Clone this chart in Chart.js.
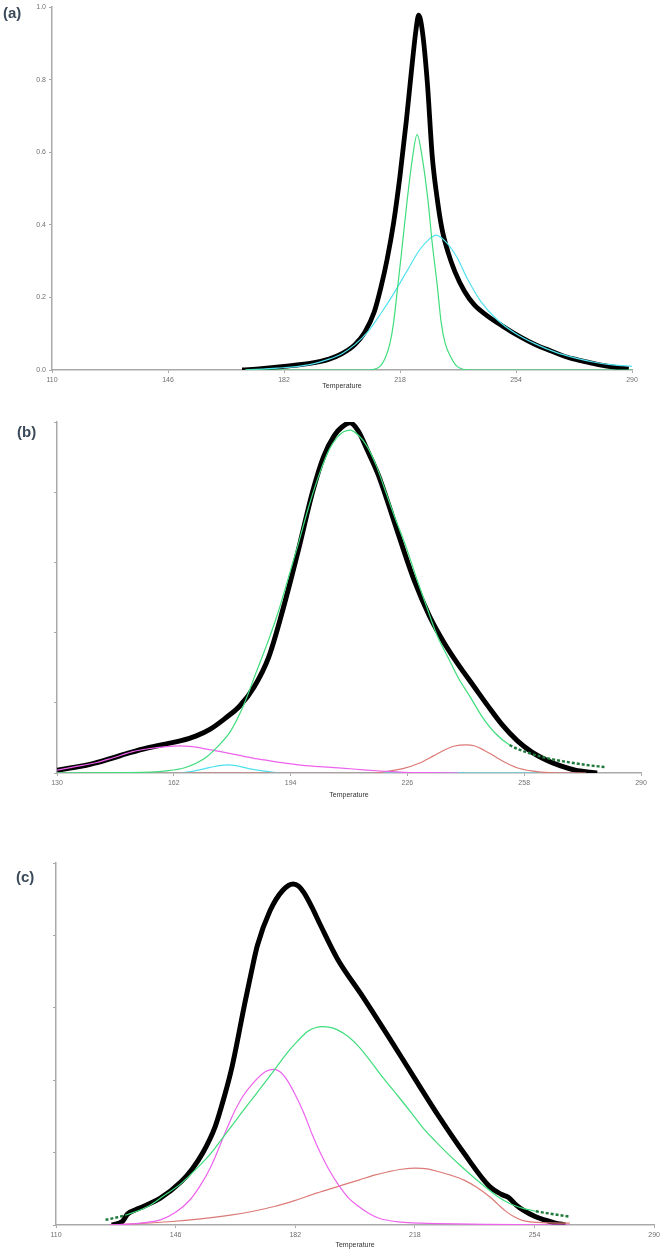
<!DOCTYPE html>
<html>
<head>
<meta charset="utf-8">
<title>Deconvoluted TL glow curves (a)-(c)</title>
<script src="https://cdn.jsdelivr.net/npm/chart.js@4.4.1/dist/chart.umd.min.js"></script>
<style>
  html, body { margin: 0; padding: 0; background: #fff; }
  body { width: 663px; height: 1249px; position: relative; overflow: hidden; }
  .panel { position: absolute; left: 0; width: 663px; }
  .tag {
    position: absolute;
    font: bold 15px 'Liberation Sans', Arial, sans-serif;
    color: #3b4a5a;
  }
</style>
</head>
<body>
  <div class="panel" style="top:0;height:395px;"><canvas id="chartA"></canvas></div>
  <div class="panel" style="top:400px;height:405px;"><canvas id="chartB"></canvas></div>
  <div class="panel" style="top:840px;height:409px;"><canvas id="chartC"></canvas></div>
  <div class="tag" style="left:3px;top:4px;">(a)</div>
  <div class="tag" style="left:17px;top:423px;">(b)</div>
  <div class="tag" style="left:16px;top:868px;">(c)</div>

<script>
/* ---------- tick labels ------------------------------------------ */
const TICKS_A = [110, 146, 182, 218, 254, 290];
const TICKS_B = [130, 162, 194, 226, 258, 290];
const TICKS_C = [110, 146, 182, 218, 254, 290];
const Y_TICKS = [0, 0.2, 0.4, 0.6, 0.8, 1.0];

/* ---------- (a) measured curve + two components ------------------ */
const A_BLACK_T = [169, 175, 182, 190, 196, 200, 204, 207, 210, 212, 214, 216, 218, 220, 221.5, 223, 223.8, 225, 226.5, 228, 229.5, 231, 233, 235, 238, 241, 245, 250, 255, 260, 265, 270, 275, 280, 285, 289];
const A_BLACK_V = [0, 0.004, 0.01, 0.018, 0.03, 0.045, 0.07, 0.103, 0.16, 0.225, 0.305, 0.405, 0.535, 0.69, 0.82, 0.94, 0.978, 0.93, 0.79, 0.59, 0.475, 0.39, 0.322, 0.272, 0.217, 0.18, 0.15, 0.12, 0.093, 0.07, 0.052, 0.035, 0.024, 0.014, 0.007, 0.003];

const A_CYAN_T = [170, 180, 190, 196, 200, 204, 208, 212, 216, 220, 224, 227, 229.2, 232, 235.7, 239, 243, 248, 254, 260, 266, 272, 278, 284, 290];
const A_CYAN_V = [0, 0.005, 0.015, 0.03, 0.045, 0.07, 0.105, 0.155, 0.21, 0.27, 0.33, 0.36, 0.372, 0.355, 0.31, 0.25, 0.19, 0.14, 0.10, 0.072, 0.05, 0.034, 0.022, 0.014, 0.01];

const A_GREEN_T = [170, 200, 208, 211.8, 213.5, 214.9, 216, 217.4, 218.8, 220.2, 221.8, 223.3, 225, 226.7, 228, 229.5, 230.8, 232, 233.8, 235.7, 240, 260, 290];
const A_GREEN_V = [0, 0, 0, 0.01, 0.035, 0.074, 0.13, 0.238, 0.35, 0.466, 0.58, 0.649, 0.58, 0.466, 0.35, 0.238, 0.13, 0.074, 0.035, 0.01, 0, 0, 0];

/* ---------- (b) measured curve + four components ----------------- */
const B_BLACK_T = [130, 134, 138, 141, 145, 150, 155, 160, 164, 168, 172, 176, 180, 184, 188, 192, 196, 200, 203, 206, 208, 210.3, 212.5, 215, 218, 221, 224, 228, 232, 236, 240, 244, 248, 252, 256, 260, 264, 268, 272, 276, 278];
const B_BLACK_V = [0.008, 0.015, 0.022, 0.03, 0.042, 0.058, 0.072, 0.083, 0.092, 0.105, 0.125, 0.155, 0.19, 0.245, 0.33, 0.47, 0.63, 0.8, 0.9, 0.962, 0.985, 0.998, 0.975, 0.92, 0.85, 0.76, 0.665, 0.545, 0.448, 0.372, 0.308, 0.25, 0.192, 0.137, 0.093, 0.06, 0.037, 0.02, 0.008, 0.002, 0];

const B_GREEN_T = [130, 150, 160, 165, 170.5, 174, 177.6, 181, 184.5, 188, 190.5, 193.5, 196.3, 199, 202, 204.5, 206.8, 208.5, 210.3, 212.5, 215, 217.5, 219.6, 222.5, 225.6, 228.5, 231.4, 234, 237.1, 240, 243.2, 246.5, 250, 254, 259.3, 264, 270, 275, 280];
const B_GREEN_V = [0, 0.001, 0.006, 0.015, 0.042, 0.075, 0.12, 0.19, 0.285, 0.38, 0.455, 0.56, 0.66, 0.76, 0.855, 0.92, 0.957, 0.972, 0.977, 0.963, 0.93, 0.875, 0.815, 0.73, 0.645, 0.555, 0.47, 0.395, 0.33, 0.27, 0.217, 0.16, 0.114, 0.08, 0.057, 0.043, 0.031, 0.023, 0.017];

const B_MAGENTA_T = [130, 135, 141, 145, 150.5, 155, 160, 163.5, 167, 171, 175.2, 180, 185, 190.5, 196, 202, 208, 214, 219.6, 225, 232, 240];
const B_MAGENTA_V = [0.008, 0.018, 0.03, 0.042, 0.06, 0.069, 0.075, 0.077, 0.075, 0.068, 0.06, 0.05, 0.04, 0.031, 0.023, 0.018, 0.014, 0.009, 0.005, 0.002, 0.001, 0];

const B_CYAN_T = [130, 163.4, 166, 169, 172, 174.5, 176.8, 179, 182, 185, 188, 192.7, 272];
const B_CYAN_V = [0, 0, 0.003, 0.009, 0.016, 0.021, 0.023, 0.021, 0.014, 0.008, 0.004, 0, 0];

const B_RED_T = [130, 216, 220, 225, 229, 233, 236, 239, 242, 244.5, 247, 250, 253, 256, 260, 265, 275];
const B_RED_V = [0, 0, 0.004, 0.013, 0.027, 0.048, 0.065, 0.077, 0.08, 0.077, 0.065, 0.047, 0.029, 0.015, 0.006, 0.001, 0];

/* ---------- (c) measured curve + three components ---------------- */
const C_BLACK_T = [126.8, 130, 131.5, 135, 141.4, 147.7, 151, 154.1, 157.9, 160.5, 163, 166.8, 168.7, 170.6, 174.4, 178.2, 181.4, 183, 184.6, 187, 189.6, 194.7, 202.3, 210, 217.6, 225.2, 232.8, 240.5, 244, 246.2, 248.5, 250.6, 254, 257, 260, 263.3];
const C_BLACK_V = [0, 0.01, 0.03, 0.046, 0.074, 0.12, 0.155, 0.198, 0.272, 0.35, 0.438, 0.612, 0.695, 0.772, 0.868, 0.924, 0.942, 0.936, 0.918, 0.878, 0.828, 0.735, 0.631, 0.521, 0.41, 0.3, 0.198, 0.106, 0.085, 0.076, 0.055, 0.041, 0.024, 0.014, 0.006, 0];

const C_GREEN_T = [124.9, 131.2, 137.6, 142, 147.7, 152, 156.6, 160.5, 164.2, 168, 171.9, 175.7, 179.5, 182.7, 185.8, 188, 190.3, 192.5, 194.7, 198, 201.1, 204.3, 207.4, 210.6, 213.8, 217, 220.1, 224, 227.8, 231.6, 235.4, 239.2, 243, 246.8, 250.6, 254.4, 258.2, 264.6];
const C_GREEN_V = [0.014, 0.028, 0.051, 0.078, 0.115, 0.153, 0.198, 0.245, 0.29, 0.336, 0.382, 0.428, 0.475, 0.508, 0.535, 0.545, 0.548, 0.546, 0.539, 0.52, 0.493, 0.457, 0.419, 0.382, 0.346, 0.309, 0.272, 0.233, 0.198, 0.165, 0.134, 0.105, 0.078, 0.058, 0.046, 0.038, 0.032, 0.023];

const C_MAGENTA_T = [126, 134, 141.4, 146, 150.3, 153.5, 156.6, 159.8, 163, 166.2, 169.3, 173.1, 175.7, 177.6, 179.5, 182, 184.6, 187.1, 189.6, 192.2, 194.7, 198, 201.1, 204.3, 207.4, 213.8, 220.1, 240, 264.6];
const C_MAGENTA_V = [0, 0.004, 0.014, 0.035, 0.069, 0.11, 0.161, 0.23, 0.3, 0.355, 0.392, 0.424, 0.43, 0.422, 0.401, 0.36, 0.309, 0.25, 0.198, 0.152, 0.115, 0.075, 0.051, 0.031, 0.018, 0.008, 0.005, 0.002, 0];

const C_RED_T = [126, 135, 143.9, 153.5, 163, 169.3, 175.7, 182, 188.4, 194.7, 201.1, 205.5, 210, 214, 218.2, 221.7, 225.2, 229, 232.8, 236.6, 240.5, 243, 245.5, 248, 250.6, 255, 264.6];
const C_RED_V = [0, 0.004, 0.009, 0.017, 0.028, 0.038, 0.051, 0.068, 0.088, 0.106, 0.124, 0.137, 0.147, 0.154, 0.157, 0.155, 0.147, 0.137, 0.124, 0.104, 0.078, 0.057, 0.037, 0.022, 0.012, 0.007, 0.005];

(function () {
  'use strict';

  function init() {
    if (typeof Chart === 'undefined') {
      setTimeout(init, 50);
      return;
    }

    Chart.defaults.font.family = "'Liberation Sans', Arial, sans-serif";
    Chart.defaults.animation = false;

    const BLACK     = '#000000';
    const GREEN     = '#3fdd7c'; /* main component */
    const GREEN_DK  = '#1f7a3c'; /* where the fit sum shows through on the tails */
    const CYAN      = '#4fe2ee';
    const MAGENTA   = '#ee62ee';
    const RED       = '#dc7a76';
    const AXIS      = '#a9a9a9';
    const LABEL     = '#707070';

    const zip = (ts, vs) => ts.map((t, i) => ({ x: t, y: vs[i] }));

    function line(ts, vs, color, width, order, tails) {
      const ds = {
        data: zip(ts, vs),
        borderColor: color,
        borderWidth: width,
        pointRadius: 0,
        cubicInterpolationMode: 'monotone',
        fill: false,
        order: order,
      };
      if (tails) {
        const inTail = (c) => tails.some(([a, b]) => c.p0.parsed.x >= a && c.p1.parsed.x <= b);
        ds.segment = {
          borderColor: (c) => (inTail(c) ? GREEN_DK : undefined),
          borderWidth: (c) => (inTail(c) ? 2.4 : undefined),
          borderDash: (c) => (inTail(c) ? [3, 2] : undefined),
        };
      }
      return ds;
    }

    /* one panel = one chart; plot box pinned with afterFit + padding */
    function panel(id, cfg) {
      const xt = cfg.xTicks;
      new Chart(document.getElementById(id), {
        type: 'line',
        data: { datasets: cfg.datasets },
        options: {
          responsive: true,
          maintainAspectRatio: false,
          layout: { padding: cfg.padding },
          plugins: { legend: { display: false }, tooltip: { enabled: false } },
          scales: {
            x: {
              type: 'linear',
              min: xt[0],
              max: xt[xt.length - 1],
              afterBuildTicks: (s) => { s.ticks = xt.map((v) => ({ value: v })); },
              afterFit: (s) => { s.height = cfg.xHeight; },
              grid: { drawOnChartArea: false, drawTicks: true, tickLength: 3, color: AXIS, lineWidth: 1 },
              border: { color: AXIS, width: 1.5 },
              ticks: { color: LABEL, font: { size: 7 }, padding: 3, maxRotation: 0, autoSkip: false },
              title: {
                display: true,
                text: 'Temperature',
                color: '#333',
                font: { size: 7, lineHeight: 1 },
                padding: 0,
              },
            },
            y: {
              min: 0,
              max: 1,
              afterBuildTicks: (s) => { s.ticks = Y_TICKS.map((v) => ({ value: v })); },
              afterFit: (s) => { s.width = cfg.yWidth; },
              grid: { drawOnChartArea: false, drawTicks: true, tickLength: 3, color: AXIS, lineWidth: 1 },
              border: { color: AXIS, width: 1.5 },
              ticks: {
                display: cfg.yLabels,
                color: LABEL,
                font: { size: 7 },
                padding: 3,
                callback: (v) => v.toFixed(1),
              },
            },
          },
        },
      });
    }

    /* ---------- (a) ---------------------------------------------- */
    panel('chartA', {
      xTicks: TICKS_A,
      yLabels: true,
      yWidth: 52,
      xHeight: 20,
      padding: { left: 0, top: 5, right: 31, bottom: 5 },
      datasets: [
        line(A_BLACK_T, A_BLACK_V, BLACK, 4.8, 5),
        line(A_CYAN_T, A_CYAN_V, CYAN, 1.2, 2),
        line(A_GREEN_T, A_GREEN_V, GREEN, 1.2, 1),
      ],
    });

    /* ---------- (b) ---------------------------------------------- */
    panel('chartB', {
      xTicks: TICKS_B,
      yLabels: false,
      yWidth: 57,
      xHeight: 26,
      padding: { left: 0, top: 22, right: 22, bottom: 6 },
      datasets: [
        line(B_BLACK_T, B_BLACK_V, BLACK, 5, 5),
        line(B_GREEN_T, B_GREEN_V, GREEN, 1.2, 1, [[252, 290]]),
        line(B_MAGENTA_T, B_MAGENTA_V, MAGENTA, 1.2, 2),
        line(B_CYAN_T, B_CYAN_V, CYAN, 1.2, 3),
        line(B_RED_T, B_RED_V, RED, 1.2, 2),
      ],
    });

    /* ---------- (c) ---------------------------------------------- */
    panel('chartC', {
      xTicks: TICKS_C,
      yLabels: false,
      yWidth: 56,
      xHeight: 24,
      padding: { left: 0, top: 23, right: 8, bottom: 0 },
      datasets: [
        line(C_BLACK_T, C_BLACK_V, BLACK, 5, 5),
        line(C_GREEN_T, C_GREEN_V, GREEN, 1.2, 1, [[110, 132], [254, 290]]),
        line(C_MAGENTA_T, C_MAGENTA_V, MAGENTA, 1.2, 2),
        line(C_RED_T, C_RED_V, RED, 1.2, 2),
      ],
    });
  }

  if (document.readyState === 'loading') {
    document.addEventListener('DOMContentLoaded', init);
  } else {
    init();
  }
})();
</script>
</body>
</html>
